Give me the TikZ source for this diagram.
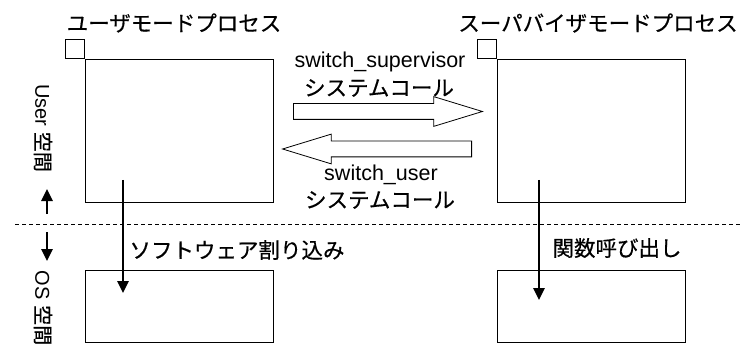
\documentclass[tikz,border=0pt]{standalone}
\usepackage{fontspec}
\setmainfont{Liberation Sans}
\newfontfamily\jpfont[FakeBold=0.5]{Noto Sans CJK JP}
\usetikzlibrary{arrows.meta,positioning,shapes.arrows}
\tikzset{
  procbox/.style={
    draw,
    line width=0.9pt,
    minimum width=188pt,
    minimum height=143pt,
    inner sep=0pt,
    anchor=north west
  },
  osbox/.style={
    procbox,
    minimum height=72pt
  },
  tagbox/.style={
    draw,
    line width=0.9pt,
    minimum size=19pt,
    inner sep=0pt,
    anchor=south east
  },
  jplabel/.style={
    font=\jpfont\fontsize{21.5}{24}\selectfont,
    inner sep=0pt
  },
  latinlabel/.style={
    font=\fontsize{21.5}{24}\selectfont,
    inner sep=0pt
  },
  spacelabel/.style={
    font=\fontsize{20}{24}\selectfont,
    rotate=-90,
    inner sep=0pt
  },
  bigarrow/.style={
    draw,
    single arrow,
    line width=0.8pt,
    inner xsep=0pt,
    inner ysep=7.5pt,
    minimum width=0pt,
    minimum height=189pt,
    single arrow head extend=7pt,
    single arrow tip angle=34,
    single arrow head indent=0pt,
    anchor=tail
  },
  callarrow/.style={
    -{Triangle[length=12pt,width=11pt]},
    line width=2.5pt
  }
}

\begin{document}
\begin{tikzpicture}[x=1pt,y=-1pt]
    \useasboundingbox (0,0) rectangle (742,350);

    % processes
    \node[procbox] (userproc) at (85,59) {};
    \node[procbox] (supproc) at (497,59) {};
    \node[osbox] (useros) at (85,270) {};
    \node[osbox] (supos) at (497,270) {};
    \node[tagbox] (usertag) at (userproc.north west) {};
    \node[tagbox] (suptag) at (supproc.north west) {};

    \node[jplabel] (userlbl) at (174,23) {ユーザモードプロセス};
    \node[jplabel] (suplbl) at (598,23) {スーパバイザモードプロセス};

    % system calls
    \node[latinlabel] (supname) at (380,62) {switch\_supervisor};
    \node[jplabel] (supsys) at (379,88) {システムコール};
    \node[bigarrow] (supcall) at (293,111.5) {};
    \node[bigarrow, shape border rotate=180] (usercall) at (472,149) {};
    \node[latinlabel] (username) at (381,175) {switch\_user};
    \node[jplabel] (usersys) at (380,200) {システムコール};

    % user / OS boundary
    \draw[line width=1pt, dash pattern=on 4pt off 3pt] (15,224) -- (742,224);
    \node[spacelabel] (userspace) at (43,128) {User \jpfont 空間};
    \node[spacelabel] (osspace) at (43,308) {OS \jpfont 空間};
    \coordinate (upfrom) at (47,214);
    \coordinate (upto) at (47,189);
    \coordinate (downfrom) at (47,232);
    \coordinate (downto) at (47,261);
    \draw[callarrow] (upfrom) -- (upto);
    \draw[callarrow] (downfrom) -- (downto);

    % calls into the OS
    \coordinate (trapfrom) at (123,180);
    \coordinate (trapto) at (123,293);
    \coordinate (funcfrom) at (539,180);
    \coordinate (functo) at (539,300);
    \draw[callarrow] (trapfrom) -- (trapto);
    \draw[callarrow] (funcfrom) -- (functo);
    \node[jplabel] (traplbl) at (237,250) {ソフトウェア割り込み};
    \node[jplabel] (funclbl) at (617,248) {関数呼び出し};
\end{tikzpicture}
\end{document}
